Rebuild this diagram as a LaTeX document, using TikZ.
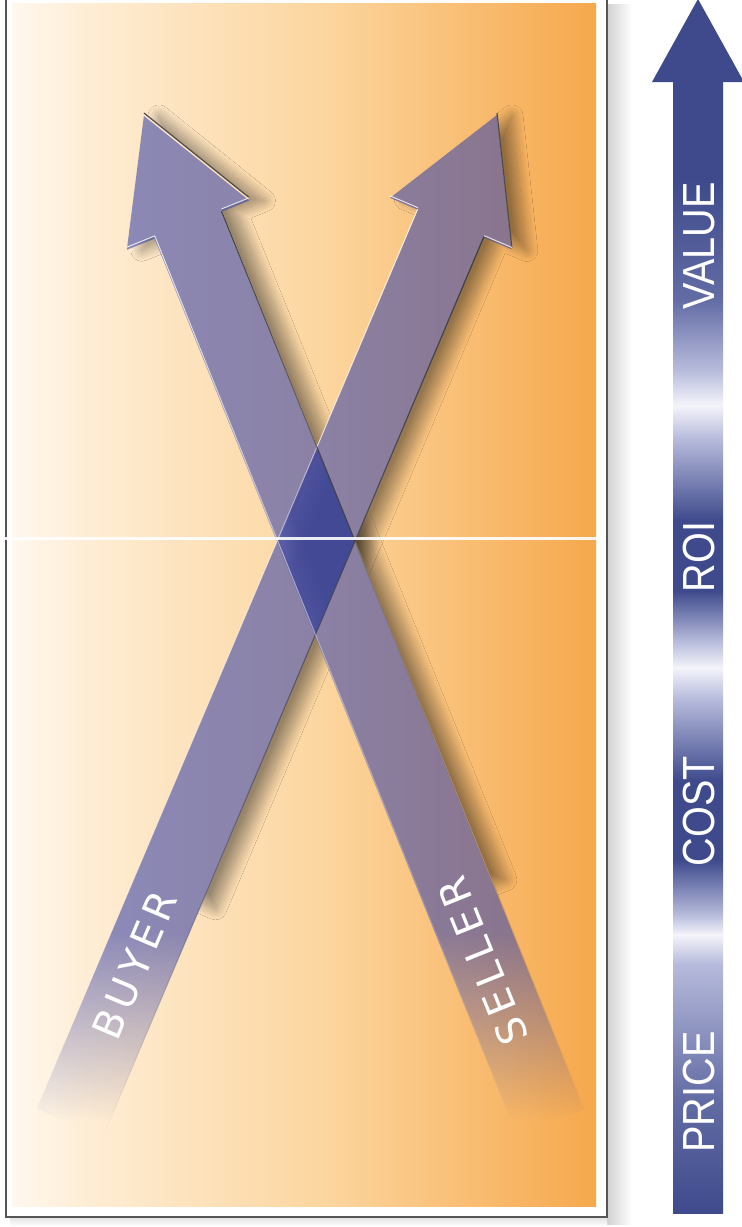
\documentclass[tikz,border=0pt]{standalone}
\usepackage{fontspec}
\usetikzlibrary{calc,fadings,shadows.blur}
\newfontfamily\labelfont[LetterSpace=14]{DejaVu Sans}
\newfontfamily\scalefont[FakeStretch=0.88]{Liberation Sans}

\definecolor{cream}{HTML}{FFF8EE}
\definecolor{peach}{HTML}{FCD59E}
\definecolor{amber}{HTML}{F6A84C}
\definecolor{arrowblue}{HTML}{4049A8}
\definecolor{navy}{HTML}{3E4A8C}
\definecolor{haze}{HTML}{B6BADB}
\definecolor{glow}{HTML}{F4F4FA}
\definecolor{framegray}{HTML}{555555}
\colorlet{creampeach}{cream!70!peach}
\colorlet{navyhaze}{navy!70!haze}

% background of the panel, cream to amber (tikz fits 25bp..75bp to the path)
\pgfdeclarehorizontalshading{panelshade}{100bp}{color(0bp)=(cream); color(25bp)=(cream); color(31bp)=(creampeach); color(52bp)=(peach); color(75bp)=(amber); color(100bp)=(amber)}
% tails of the two arrows fade out
\pgfdeclareverticalshading{tailshade}{100bp}{color(0bp)=(black); color(25.8bp)=(black); color(35bp)=(white); color(100bp)=(white)}
\pgfdeclarefading{tailfade}{\pgfuseshading{tailshade}}
% light bands on the scale arrow
\pgfdeclareverticalshading{scaleshade}{100bp}{color(0bp)=(navy); color(25bp)=(navy); color(30bp)=(navyhaze); color(36bp)=(haze); color(37.3bp)=(glow); color(38.2bp)=(haze); color(40.6bp)=(navy); color(44.1bp)=(navy); color(47.7bp)=(haze); color(49.1bp)=(glow); color(50.3bp)=(haze); color(52.5bp)=(navy); color(55.6bp)=(navy); color(59.2bp)=(haze); color(60.7bp)=(glow); color(62.3bp)=(haze); color(65.4bp)=(navyhaze); color(70.7bp)=(navy); color(100bp)=(navy)}

\begin{document}
\begin{tikzpicture}[x=1pt, y=-1pt,
    strip/.style={fill=arrowblue, fill opacity=0.6, path fading=tailfade},
    darkedge/.style={draw=black!75, line width=1.2pt, path fading=south},
    lightedge/.style={draw=white, line width=1pt, draw opacity=0.8, path fading=south},
    striplabel/.style={text=white, font=\labelfont\fontsize{40}{40}\selectfont},
    scalelabel/.style={text=white, font=\scalefont\fontsize{45}{45}\selectfont, rotate=90}]
  \useasboundingbox (0,0) rectangle (742,1227);
  \fill[white] (0,0) rectangle (742,1227);

  % frame with its shadow
  \shade[left color=black!18, right color=white] (607,4) rectangle (632,1224);
  \shade[top color=black!12, bottom color=white] (10,1217) rectangle (607,1226);
  \shade[shading=panelshade] (12,3) rectangle (596,1206);
  \draw[framegray, line width=2pt] (6,-4) -- (6,1217) -- (607,1217) -- (607,-4);

  % outline points of the two arrows
  \foreach \nm/\tx/\ty/\hx/\hy in {buy/70/1122/497/113, sell/551/1122/144/113} {
    \coordinate (\nm-tail) at (\tx,\ty);
    \coordinate (\nm-tip) at (\hx,\hy);
    \coordinate (\nm-base) at ($(\nm-tip)!118pt!(\nm-tail)$);
    \coordinate (\nm-nl) at ($(\nm-base)!36pt!90:(\nm-tip)$);
    \coordinate (\nm-nr) at ($(\nm-base)!36pt!-90:(\nm-tip)$);
    \coordinate (\nm-bl) at ($(\nm-base)!66pt!90:(\nm-tip)$);
    \coordinate (\nm-br) at ($(\nm-base)!66pt!-90:(\nm-tip)$);
    \coordinate (\nm-tl) at ($(\nm-tail)!36pt!90:(\nm-tip)$);
    \coordinate (\nm-tr) at ($(\nm-tail)!36pt!-90:(\nm-tip)$);
    \coordinate (\nm-mid) at ($(\nm-tail)!250pt!(\nm-tip)$);
    \coordinate (\nm-ml) at ($(\nm-mid)!36pt!90:(\nm-tip)$);
    \coordinate (\nm-mr) at ($(\nm-mid)!36pt!-90:(\nm-tip)$);
  }

  % soft shadows, kept off the arrows themselves
  \begin{scope}[even odd rule]
    \clip (-10,-10) rectangle (760,1240)
      (buy-tl) -- (buy-nl) -- (buy-bl) -- (buy-tip) -- (buy-br) -- (buy-nr) -- (buy-tr) -- cycle
      (sell-tl) -- (sell-nl) -- (sell-bl) -- (sell-tip) -- (sell-br) -- (sell-nr) -- (sell-tr) -- cycle;
    \foreach \nm in {buy,sell}
      \path[blur shadow={shadow xshift=15pt, shadow yshift=-3pt, shadow blur radius=11pt,
          shadow blur steps=24, shadow opacity=40}]
        (\nm-ml) -- (\nm-nl) -- (\nm-bl) -- (\nm-tip) -- (\nm-br) -- (\nm-nr) -- (\nm-mr) -- cycle;
  \end{scope}

  \foreach \nm in {buy,sell}
    \fill[strip] (\nm-tl) -- (\nm-nl) -- (\nm-bl) -- (\nm-tip) -- (\nm-br) -- (\nm-nr) -- (\nm-tr) -- cycle;

  % bevel lines
  \foreach \nm in {buy,sell} {
    \draw[black!70, line width=1.2pt] (\nm-tip) -- (\nm-br);
    \draw[darkedge] (\nm-nr) -- (\nm-tr);
    \draw[lightedge] (\nm-nl) -- (\nm-tl);
    \draw[white, line width=1pt, opacity=0.8] (\nm-bl) -- (\nm-nl) (\nm-br) -- (\nm-nr);
  }

  \draw[white, line width=3pt, opacity=0.9] (0,538) -- (597,538);

  \foreach \txt/\px/\py/\ang in {BUYER/135/965/67, SELLER/483/961/112}
    \node[striplabel, rotate=\ang] (\txt) at (\px,\py) {\txt};

  % scale arrow on the right
  \shade[shading=scaleshade] (673,82) rectangle (723,1213);
  \fill[navy] (652,82) -- (698,-1) -- (744,82) -- cycle;
  \foreach \txt/\py in {VALUE/246, ROI/557, COST/811, PRICE/1092}
    \node[scalelabel] (\txt) at (699,\py) {\txt};
\end{tikzpicture}
\end{document}
